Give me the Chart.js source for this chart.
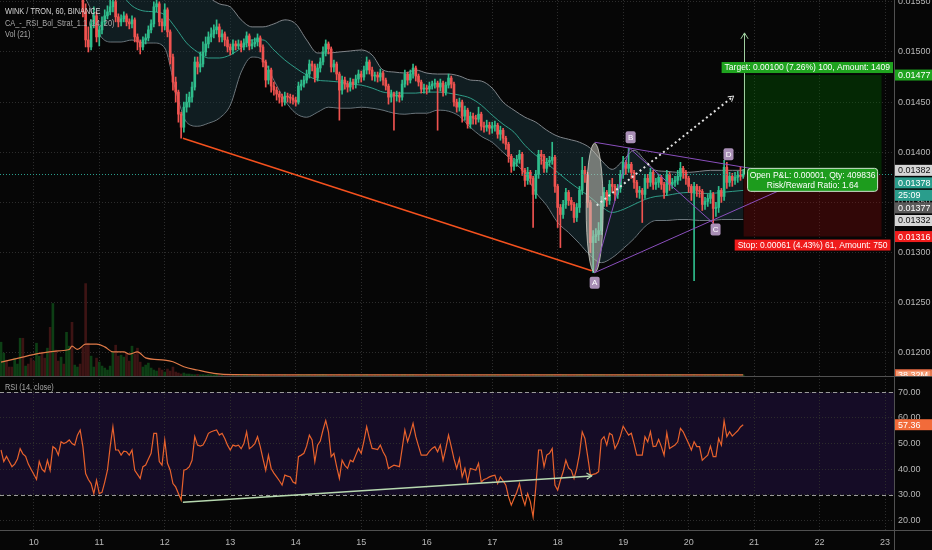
<!DOCTYPE html>
<html>
<head>
<meta charset="utf-8">
<title>WINK / TRON, 60, BINANCE</title>
<script src="https://cdn.jsdelivr.net/npm/chart.js@4.4.1/dist/chart.umd.min.js"></script>
<style>
  html, body { margin: 0; padding: 0; background: #060606; }
  #wrap { position: relative; width: 932px; height: 550px; background: #060606; overflow: hidden; }
  canvas { position: absolute; left: 0; }
  #priceChart { top: 0; }
  #rsiChart { top: 376px; }
</style>
</head>
<body>
<div id="wrap">
  <canvas id="priceChart" width="932" height="376"></canvas>
  <canvas id="rsiChart" width="932" height="174"></canvas>
</div>
<script>
'use strict';

// ---- data: hourly candles, first bar = Oct 9 12:00 (day 9.5) ----
const START_DAY = 9.5;

const opens = [
  0.01588,0.01592,0.01597,0.01590,0.01586,0.01582,0.01587,0.01590,0.01598,0.01591,
  0.01594,0.01589,0.01584,0.01580,0.01588,0.01592,0.01586,0.01582,0.01589,0.01580,
  0.01594,0.01588,0.01585,0.01592,0.01589,0.01597,0.01601,0.01593,0.01597,0.01603,
  0.01592,0.01540,0.01512,0.01505,0.01528,0.01536,0.01515,0.01522,0.01530,0.01536,
  0.01540,0.01545,0.01550,0.01535,0.01530,0.01533,0.01536,0.01530,0.01528,0.01532,
  0.01515,0.01510,0.01505,0.01512,0.01514,0.01522,0.01528,0.01545,0.01548,0.01530,
  0.01526,0.01542,0.01520,0.01495,0.01470,0.01460,0.01438,0.01425,0.01445,0.01450,
  0.01455,0.01465,0.01490,0.01485,0.01488,0.01500,0.01508,0.01515,0.01518,0.01522,
  0.01525,0.01515,0.01518,0.01512,0.01505,0.01502,0.01508,0.01506,0.01508,0.01505,
  0.01509,0.01516,0.01506,0.01508,0.01510,0.01514,0.01505,0.01490,0.01472,0.01482,
  0.01466,0.01462,0.01458,0.01455,0.01450,0.01456,0.01455,0.01454,0.01452,0.01450,
  0.01466,0.01468,0.01472,0.01478,0.01488,0.01486,0.01474,0.01484,0.01490,0.01500,
  0.01508,0.01503,0.01485,0.01488,0.01478,0.01462,0.01472,0.01468,0.01465,0.01470,
  0.01468,0.01473,0.01478,0.01475,0.01482,0.01490,0.01482,0.01476,0.01477,0.01475,
  0.01479,0.01472,0.01466,0.01455,0.01458,0.01456,0.01457,0.01455,0.01468,0.01478,
  0.01472,0.01478,0.01484,0.01476,0.01470,0.01463,0.01464,0.01463,0.01466,0.01468,
  0.01469,0.01465,0.01469,0.01460,0.01467,0.01474,0.01468,0.01450,0.01445,0.01450,
  0.01436,0.01442,0.01428,0.01436,0.01434,0.01433,0.01438,0.01426,0.01425,0.01427,
  0.01424,0.01426,0.01427,0.01418,0.01422,0.01414,0.01408,0.01396,0.01386,0.01390,
  0.01393,0.01398,0.01382,0.01372,0.01380,0.01374,0.01358,0.01378,0.01398,0.01396,
  0.01384,0.01390,0.01392,0.01395,0.01366,0.01345,0.01338,0.01348,0.01360,0.01352,
  0.01348,0.01335,0.01345,0.01362,0.01382,0.01378,0.01350,0.01310,0.01316,0.01318,
  0.01322,0.01350,0.01360,0.01352,0.01368,0.01366,0.01358,0.01364,0.01378,0.01390,
  0.01384,0.01388,0.01380,0.01370,0.01360,0.01362,0.01358,0.01374,0.01370,0.01380,
  0.01368,0.01370,0.01375,0.01368,0.01360,0.01378,0.01368,0.01370,0.01372,0.01376,
  0.01384,0.01380,0.01374,0.01366,0.01360,0.01366,0.01362,0.01361,0.01348,0.01351,
  0.01354,0.01358,0.01344,0.01345,0.01362,0.01356,0.01385,0.01370,0.01376,0.01372,
  0.01375,0.01377,0.01376
];
const highs = [
  0.01596,0.01600,0.01599,0.01592,0.01588,0.01590,0.01593,0.01603,0.01600,0.01597,
  0.01596,0.01591,0.01586,0.01592,0.01595,0.01594,0.01588,0.01592,0.01591,0.01600,
  0.01596,0.01590,0.01595,0.01594,0.01602,0.01605,0.01604,0.01600,0.01606,0.01605,
  0.01594,0.01548,0.01525,0.01532,0.01545,0.01540,0.01526,0.01535,0.01542,0.01546,
  0.01552,0.01558,0.01552,0.01538,0.01537,0.01540,0.01538,0.01533,0.01536,0.01534,
  0.01518,0.01512,0.01515,0.01518,0.01526,0.01532,0.01550,0.01556,0.01550,0.01533,
  0.01548,0.01544,0.01522,0.01498,0.01475,0.01462,0.01440,0.01450,0.01458,0.01460,
  0.01470,0.01495,0.01495,0.01500,0.01510,0.01515,0.01520,0.01524,0.01527,0.01532,
  0.01528,0.01522,0.01520,0.01515,0.01508,0.01512,0.01511,0.01512,0.01511,0.01513,
  0.01520,0.01518,0.01512,0.01514,0.01518,0.01516,0.01507,0.01492,0.01486,0.01484,
  0.01470,0.01465,0.01461,0.01458,0.01460,0.01459,0.01458,0.01457,0.01455,0.01470,
  0.01472,0.01476,0.01482,0.01492,0.01491,0.01488,0.01488,0.01494,0.01505,0.01512,
  0.01510,0.01505,0.01492,0.01490,0.01480,0.01476,0.01475,0.01471,0.01474,0.01473,
  0.01477,0.01482,0.01481,0.01486,0.01495,0.01492,0.01485,0.01480,0.01480,0.01483,
  0.01481,0.01474,0.01468,0.01462,0.01460,0.01461,0.01460,0.01472,0.01482,0.01480,
  0.01482,0.01488,0.01486,0.01478,0.01472,0.01468,0.01467,0.01470,0.01471,0.01473,
  0.01471,0.01473,0.01471,0.01470,0.01478,0.01476,0.01470,0.01453,0.01454,0.01452,
  0.01446,0.01444,0.01440,0.01439,0.01437,0.01445,0.01440,0.01430,0.01432,0.01430,
  0.01430,0.01431,0.01429,0.01426,0.01424,0.01416,0.01410,0.01398,0.01394,0.01397,
  0.01402,0.01400,0.01384,0.01385,0.01382,0.01376,0.01382,0.01402,0.01402,0.01398,
  0.01394,0.01396,0.01410,0.01397,0.01368,0.01348,0.01352,0.01364,0.01362,0.01355,
  0.01350,0.01349,0.01366,0.01395,0.01386,0.01380,0.01352,0.01322,0.01324,0.01330,
  0.01356,0.01365,0.01362,0.01372,0.01374,0.01368,0.01368,0.01382,0.01396,0.01392,
  0.01404,0.01390,0.01382,0.01372,0.01366,0.01364,0.01378,0.01378,0.01384,0.01382,
  0.01374,0.01378,0.01377,0.01370,0.01382,0.01380,0.01374,0.01376,0.01382,0.01390,
  0.01386,0.01382,0.01376,0.01368,0.01370,0.01368,0.01366,0.01363,0.01355,0.01358,
  0.01362,0.01360,0.01350,0.01366,0.01364,0.01392,0.01390,0.01380,0.01379,0.01380,
  0.01381,0.01385,0.01383
];
const lows = [
  0.01585,0.01590,0.01587,0.01583,0.01579,0.01580,0.01585,0.01588,0.01588,0.01589,
  0.01586,0.01581,0.01577,0.01578,0.01586,0.01583,0.01579,0.01580,0.01577,0.01578,
  0.01585,0.01582,0.01583,0.01587,0.01587,0.01594,0.01590,0.01591,0.01595,0.01588,
  0.01535,0.01505,0.01500,0.01502,0.01524,0.01510,0.01506,0.01518,0.01527,0.01533,
  0.01537,0.01540,0.01530,0.01525,0.01526,0.01530,0.01526,0.01523,0.01524,0.01510,
  0.01502,0.01498,0.01502,0.01508,0.01511,0.01519,0.01525,0.01540,0.01526,0.01520,
  0.01522,0.01515,0.01488,0.01462,0.01450,0.01430,0.01414,0.01420,0.01440,0.01445,
  0.01450,0.01462,0.01478,0.01480,0.01485,0.01496,0.01504,0.01510,0.01514,0.01518,
  0.01510,0.01510,0.01506,0.01500,0.01497,0.01498,0.01502,0.01503,0.01500,0.01502,
  0.01505,0.01502,0.01503,0.01505,0.01506,0.01500,0.01485,0.01465,0.01468,0.01460,
  0.01457,0.01452,0.01449,0.01446,0.01447,0.01450,0.01449,0.01448,0.01446,0.01448,
  0.01462,0.01465,0.01469,0.01474,0.01481,0.01470,0.01471,0.01480,0.01487,0.01496,
  0.01498,0.01480,0.01480,0.01472,0.01432,0.01458,0.01463,0.01460,0.01461,0.01463,
  0.01464,0.01469,0.01470,0.01472,0.01478,0.01478,0.01472,0.01471,0.01470,0.01471,
  0.01467,0.01462,0.01448,0.01450,0.01422,0.01451,0.01450,0.01452,0.01465,0.01467,
  0.01469,0.01474,0.01471,0.01466,0.01459,0.01459,0.01458,0.01460,0.01463,0.01464,
  0.01422,0.01461,0.01456,0.01457,0.01464,0.01464,0.01446,0.01440,0.01441,0.01430,
  0.01432,0.01424,0.01424,0.01428,0.01428,0.01430,0.01422,0.01420,0.01421,0.01418,
  0.01419,0.01421,0.01414,0.01412,0.01409,0.01403,0.01390,0.01380,0.01382,0.01386,
  0.01389,0.01377,0.01366,0.01368,0.01368,0.01325,0.01354,0.01374,0.01388,0.01380,
  0.01380,0.01386,0.01388,0.01360,0.01325,0.01305,0.01334,0.01344,0.01347,0.01342,
  0.01330,0.01331,0.01340,0.01358,0.01370,0.01345,0.01300,0.01280,0.01310,0.01312,
  0.01318,0.01346,0.01346,0.01348,0.01360,0.01352,0.01354,0.01360,0.01374,0.01378,
  0.01380,0.01374,0.01364,0.01355,0.01354,0.01330,0.01354,0.01364,0.01366,0.01363,
  0.01363,0.01365,0.01363,0.01354,0.01357,0.01362,0.01364,0.01366,0.01368,0.01372,
  0.01374,0.01368,0.01360,0.01352,0.01272,0.01356,0.01355,0.01342,0.01343,0.01346,
  0.01349,0.01326,0.01336,0.01340,0.01350,0.01352,0.01364,0.01366,0.01366,0.01368,
  0.01370,0.01372,0.01374
];
const closes = [
  0.01592,0.01597,0.01590,0.01586,0.01582,0.01587,0.01590,0.01598,0.01591,0.01594,
  0.01589,0.01584,0.01580,0.01588,0.01592,0.01586,0.01582,0.01589,0.01580,0.01594,
  0.01588,0.01585,0.01592,0.01589,0.01597,0.01601,0.01593,0.01597,0.01603,0.01592,
  0.01540,0.01512,0.01505,0.01528,0.01536,0.01515,0.01522,0.01530,0.01536,0.01540,
  0.01545,0.01550,0.01535,0.01530,0.01533,0.01536,0.01530,0.01528,0.01532,0.01515,
  0.01510,0.01505,0.01512,0.01514,0.01522,0.01528,0.01545,0.01548,0.01530,0.01526,
  0.01542,0.01520,0.01495,0.01470,0.01460,0.01438,0.01425,0.01445,0.01450,0.01455,
  0.01465,0.01490,0.01485,0.01488,0.01500,0.01508,0.01515,0.01518,0.01522,0.01525,
  0.01515,0.01518,0.01512,0.01505,0.01502,0.01508,0.01506,0.01508,0.01505,0.01509,
  0.01516,0.01506,0.01508,0.01510,0.01514,0.01505,0.01490,0.01472,0.01482,0.01466,
  0.01462,0.01458,0.01455,0.01450,0.01456,0.01455,0.01454,0.01452,0.01450,0.01466,
  0.01468,0.01472,0.01478,0.01488,0.01486,0.01474,0.01484,0.01490,0.01500,0.01508,
  0.01503,0.01485,0.01488,0.01478,0.01462,0.01472,0.01468,0.01465,0.01470,0.01468,
  0.01473,0.01478,0.01475,0.01482,0.01490,0.01482,0.01476,0.01477,0.01475,0.01479,
  0.01472,0.01466,0.01455,0.01458,0.01456,0.01457,0.01455,0.01468,0.01478,0.01472,
  0.01478,0.01484,0.01476,0.01470,0.01463,0.01464,0.01463,0.01466,0.01468,0.01469,
  0.01465,0.01469,0.01460,0.01467,0.01474,0.01468,0.01450,0.01445,0.01450,0.01436,
  0.01442,0.01428,0.01436,0.01434,0.01433,0.01438,0.01426,0.01425,0.01427,0.01424,
  0.01426,0.01427,0.01418,0.01422,0.01414,0.01408,0.01396,0.01386,0.01390,0.01393,
  0.01398,0.01382,0.01372,0.01380,0.01374,0.01358,0.01378,0.01398,0.01396,0.01384,
  0.01390,0.01392,0.01395,0.01366,0.01345,0.01338,0.01348,0.01360,0.01352,0.01348,
  0.01335,0.01345,0.01362,0.01382,0.01378,0.01350,0.01310,0.01316,0.01318,0.01322,
  0.01350,0.01360,0.01352,0.01368,0.01366,0.01358,0.01364,0.01378,0.01390,0.01384,
  0.01388,0.01380,0.01370,0.01360,0.01362,0.01358,0.01374,0.01370,0.01380,0.01368,
  0.01370,0.01375,0.01368,0.01360,0.01378,0.01368,0.01370,0.01372,0.01376,0.01384,
  0.01380,0.01374,0.01366,0.01360,0.01366,0.01362,0.01361,0.01348,0.01351,0.01354,
  0.01358,0.01344,0.01345,0.01362,0.01356,0.01385,0.01370,0.01376,0.01372,0.01375,
  0.01377,0.01376,0.01378
];

// volume in millions, hourly
const volumes = [
  1258,851,592,333,333,666,444,1406,1406,370,
  444,666,555,1221,740,888,666,1036,1813,2701,
  962,555,703,444,1628,1110,1998,407,333,444,
  1073,3441,1221,740,333,666,518,370,296,222,
  370,888,1147,740,777,703,851,555,1110,814,
  1036,518,333,407,481,296,222,185,296,222,
  148,259,185,333,148,111,74,111,74,74,
  55,48,62,44,51,39,58,47,42,60,53,45,38,49,57,41,46,52,36,44,
  61,40,47,55,43,38,66,52,45,41,49,37,58,44,50,42,35,47,53,62,
  45,39,48,56,41,60,43,50,64,47,38,59,44,52,67,40,46,42,49,37,
  45,51,40,48,63,46,39,43,50,41,47,36,55,44,61,42,38,52,57,45,
  48,54,43,39,47,40,36,44,41,46,58,42,50,45,53,40,56,48,43,51,
  39,47,44,38,42,49,46,41,37,45,40,43,50,39,47,55,62,58,44,41,
  52,49,57,45,48,68,59,54,43,40,38,42,47,56,61,66,48,45,41,39,
  46,43,50,58,44,55,63,57,47,42,52,48,40,45,43,38,41,47,52,39,
  49,44,42,46,40,53,47,43,45,39,41,37,40,46,50,42,38,40,44,47,
  43,39,42,45,55,41,38,44,40,37,42,48,39,43,46,52,41,38,40,36,42,39,38.32
];

// Vol (21) moving average, read at these bar indices
const volMaHours = [0, 6, 14, 21, 25, 26, 28, 31, 35, 38, 41, 45, 47, 50, 53, 60, 63, 67, 72, 78, 85, 100, 130, 160, 190, 220, 250, 272];
const volMa      = [518, 655, 840, 936, 988, 1110, 988, 1184, 1184, 1084, 899, 899, 814, 899, 677, 592, 529, 344, 222, 100, 48, 44, 42, 41, 43, 42, 41, 40];

// Bollinger bands (20), read every 4 bars
const bandHours = [
  0,4,8,12,16,20,24,28,32,36,40,44,48,52,56,60,64,68,72,76,80,84,88,92,96,100,104,108,112,116,
  120,124,128,132,136,140,144,148,152,156,160,164,168,172,176,180,184,188,192,196,200,204,208,212,
  216,220,224,228,232,236,240,244,248,252,256,260,264,268,272
];
const bbUpper = [
  0.01625,0.01628,0.01630,0.01630,0.01628,0.01626,0.01625,0.01625,0.01622,0.01615,0.01605,0.01600,
  0.01598,0.01595,0.01590,0.01588,0.01590,0.01592,0.01575,0.01556,0.01548,0.01545,0.01532,0.01525,
  0.01525,0.01528,0.01532,0.01528,0.01512,0.01499,0.01499,0.01500,0.01501,0.01502,0.01497,0.01482,
  0.01480,0.01479,0.01482,0.01479,0.01478,0.01478,0.01476,0.01472,0.01471,0.01464,0.01450,0.01442,
  0.01435,0.01430,0.01422,0.01416,0.01413,0.01410,0.01404,0.01392,0.01383,0.01392,0.01402,0.01392,
  0.01382,0.01381,0.01380,0.01380,0.01381,0.01382,0.01382,0.01382,0.01382
];
const bbMid = [
  0.01592,0.01592,0.01591,0.01590,0.01589,0.01588,0.01589,0.01590,0.01588,0.01580,0.01570,0.01558,
  0.01546,0.01541,0.01540,0.01537,0.01524,0.01509,0.01500,0.01494,0.01494,0.01497,0.01504,0.01512,
  0.01512,0.01502,0.01492,0.01484,0.01477,0.01472,0.01471,0.01470,0.01468,0.01467,0.01464,0.01460,
  0.01459,0.01459,0.01459,0.01460,0.01460,0.01459,0.01457,0.01454,0.01447,0.01437,0.01428,0.01420,
  0.01407,0.01397,0.01389,0.01380,0.01371,0.01363,0.01355,0.01346,0.01340,0.01343,0.01348,0.01353,
  0.01356,0.01357,0.01359,0.01360,0.01359,0.01359,0.01360,0.01361,0.01362
];
const bbLower = [
  0.01562,0.01560,0.01560,0.01558,0.01558,0.01557,0.01558,0.01560,0.01548,0.01518,0.01510,0.01510,
  0.01512,0.01509,0.01509,0.01504,0.01462,0.01430,0.01426,0.01429,0.01434,0.01447,0.01480,0.01495,
  0.01492,0.01472,0.01452,0.01439,0.01435,0.01440,0.01445,0.01444,0.01444,0.01445,0.01444,0.01442,
  0.01439,0.01438,0.01439,0.01439,0.01442,0.01441,0.01436,0.01425,0.01416,0.01410,0.01400,0.01390,
  0.01379,0.01360,0.01347,0.01330,0.01320,0.01309,0.01297,0.01290,0.01295,0.01304,0.01314,0.01326,
  0.01332,0.01332,0.01333,0.01333,0.01332,0.01332,0.01333,0.01333,0.01333
];

// RSI (14, close), hourly
const rsi = [
  47.5,43,45,43,41,42,44,48,46,45,
  42,40,38,36,43,40,39,43.5,39.6,48.8,
  48,45.5,50.7,50,50.5,51.4,50,49.4,53.3,55.3,
  48.8,38.3,36,34.4,30.5,35.7,30.5,31,35,39.6,
  48.8,56.6,47.5,47.5,45.5,47,46.8,45.5,47.5,39.6,
  38,36.4,41,41.6,44,46.2,54,54,43,41.6,
  51.4,42.3,39.6,34.4,33.1,30.5,28,39.6,40,41,
  43.5,52.7,49.4,49,49.4,51.4,54,54.6,55,55.3,
  53.3,54,52,49.4,47.5,49.4,49,49.4,48,50,
  54.6,48,48.8,50,52.7,48.8,44,39.6,45.5,40.3,
  38.5,37,35.5,33.8,37.7,37.3,37,35,34.4,44.9,
  45.5,46.2,49,53.3,51.4,43,49.4,51,55.3,59,
  54.6,44.9,46.2,41,36.4,43.5,41.5,40.3,43.5,42.9,
  45.5,48.1,46.2,51,56.6,52,48.1,47.9,47.7,49.4,
  46.8,44.9,40.3,41,41.6,41.3,41,48,55.3,50.7,
  54,57.9,52.7,49,45.5,45.5,45.5,47,48.1,48.8,
  46.8,49.4,43.5,48,53.3,48.8,44,40.3,44.2,37,
  40.3,35,40.3,40,39.6,42.3,35,36,36.4,37,
  37.4,37.7,34.4,37,35.5,33.8,29.2,26,28.6,31,
  34.4,29.2,26,30.5,27.3,21.4,33.1,47.5,47.5,41,
  45.5,46.2,48.1,33.8,31.8,35.7,39,43.5,40.5,39.6,
  36.4,40.3,46,54.6,52,45,37.7,38,38.3,39,
  51.4,52.7,49.4,54,53.3,48.1,50,53,56.8,55,
  53.3,54,50,45.5,45.5,45.5,52.7,50.7,54.6,48.8,
  49,51.6,48.8,45.5,54.2,48.1,48.8,49.4,50.7,55.9,
  54.6,52.3,50,47.5,50.7,48.8,48.8,43.5,44.5,45.5,
  49,44.9,44.9,52,49.4,58.9,52.7,54.6,52.9,54,
  55,56.5,57.36
];

// axis ticks
const dayTicks = [10, 11, 12, 13, 14, 15, 16, 17, 18, 19, 20, 21, 22, 23];
const priceTicks = [0.0120, 0.0125, 0.0130, 0.0135, 0.0140, 0.0145, 0.0150, 0.0155];
const rsiTicks = [20, 30, 40, 50, 60, 70];

// drawings (anchors in day / price units)
const trendLine = [[12.277, 0.01414], [18.52, 0.01282]];
const patternLines = [
  [[18.565, 0.01410], [21.313, 0.01380]],
  [[18.565, 0.01280], [21.39, 0.01362]],
  [[18.565, 0.01280], [19.099, 0.01404]],
  [[19.099, 0.01404], [20.381, 0.01329]]
];
const patternLabels = [['A', 18.565, 0.01270], ['B', 19.114, 0.01415], ['C', 20.411, 0.01323], ['D', 20.609, 0.01398]];
const markEllipse = { day: 18.565, price: 0.013445, rDay: 0.13, rPrice: 0.000645 };
const projection = [[18.596, 0.01347], [20.687, 0.01456]];
const rr = { start: 20.84, end: 22.946, entry: 0.01378, target: 0.01477, stop: 0.01316, top: 0.01519 };
const rsiDivergence = [[12.277, 27.1], [18.52, 37.4]];

const priceTags = [
  { text: '0.01477', value: 0.01477, bg: '#1fa31f', fg: '#ffffff' },
  { text: '0.01382', value: 0.01382, bg: '#d6d6d6', fg: '#111111' },
  { text: '0.01378', value: 0.01378, bg: '#2a9d8c', fg: '#ffffff' },
  { text: '25:09',   value: 0.01378, bg: '#2a9d8c', fg: '#ffffff' },
  { text: '0.01377', value: 0.01377, bg: '#5a5a5a', fg: '#ffffff' },
  { text: '0.01332', value: 0.01332, bg: '#d6d6d6', fg: '#111111' },
  { text: '0.01316', value: 0.01316, bg: '#f01c1c', fg: '#ffffff' }
];

// ---- layout / style ----
const X_MIN = 9.4841, X_MAX = 23.136;
const P_MIN = 0.011770, P_MAX = 0.015518;
const R_MIN = 16.29, R_MAX = 76.36;
const VOL_MAX = 14000;
const AXIS_W = 38;
const FONT = '"Liberation Sans", Arial, sans-serif';
const GRID = '#2c2c2c';
const TXT = '#b8b8b8';
const AXIS_LINE = '#505050';
const UP = '#2fbd8c', DOWN = '#ef5350';

Chart.defaults.font.family = FONT;
Chart.defaults.font.size = 9;
Chart.defaults.color = TXT;

const times = closes.map((_, i) => START_DAY + i / 24);
const candleColors = closes.map((c, i) => (c >= opens[i] ? UP : DOWN));
const volColors = closes.map((c, i) => (c >= opens[i] ? '#0d3f15' : '#3d1414'));
const toPts = (hours, vals) => hours.map((h, k) => ({ x: START_DAY + h / 24, y: vals[k] }));

function strokeLine(ctx, a, b, color, width, dash) {
  ctx.save();
  ctx.strokeStyle = color;
  ctx.lineWidth = width;
  ctx.setLineDash(dash || []);
  ctx.beginPath();
  ctx.moveTo(a[0], a[1]);
  ctx.lineTo(b[0], b[1]);
  ctx.stroke();
  ctx.restore();
}

function chevron(ctx, from, to, size, color, width) {
  const ang = Math.atan2(to[1] - from[1], to[0] - from[0]);
  ctx.save();
  ctx.strokeStyle = color;
  ctx.lineWidth = width;
  ctx.setLineDash([]);
  ctx.beginPath();
  ctx.moveTo(to[0] - size * Math.cos(ang - 0.55), to[1] - size * Math.sin(ang - 0.55));
  ctx.lineTo(to[0], to[1]);
  ctx.lineTo(to[0] - size * Math.cos(ang + 0.55), to[1] - size * Math.sin(ang + 0.55));
  ctx.stroke();
  ctx.restore();
}

function drawText(ctx, str, x, y, font, color, sx, align) {
  ctx.save();
  ctx.font = font;
  ctx.fillStyle = color;
  ctx.textBaseline = 'middle';
  ctx.textAlign = align || 'left';
  ctx.translate(x, y);
  ctx.scale(sx || 1, 1);
  ctx.fillText(str, 0, 0);
  ctx.restore();
}

// ---- price pane drawings ----
const pricePlugin = {
  id: 'priceDrawings',
  beforeDatasetsDraw(chart) {
    const { ctx, scales: { x, y } } = chart;
    const xs = x.getPixelForValue(rr.start), xe = x.getPixelForValue(rr.end);
    const yT = y.getPixelForValue(rr.target), yE = y.getPixelForValue(rr.entry), yS = y.getPixelForValue(rr.stop);
    ctx.save();
    ctx.fillStyle = 'rgba(0,120,0,0.30)';
    ctx.fillRect(xs, yT, xe - xs, yE - yT);
    ctx.fillStyle = 'rgba(150,10,10,0.30)';
    ctx.fillRect(xs, yE, xe - xs, yS - yE);
    ctx.restore();
  },
  afterDatasetsDraw(chart) {
    const { ctx, chartArea: a, scales: { x, y } } = chart;
    const P = (d, p) => [x.getPixelForValue(d), y.getPixelForValue(p)];
    ctx.save();
    ctx.beginPath();
    ctx.rect(a.left, a.top, a.right - a.left, a.bottom - a.top);
    ctx.clip();

    // last price line
    const yl = Math.round(y.getPixelForValue(closes[closes.length - 1])) + 0.5;
    strokeLine(ctx, [a.left, yl], [a.right, yl], '#2a9d8c', 1, [1, 2]);

    // price trend line
    strokeLine(ctx, P(...trendLine[0]), P(...trendLine[1]), '#f4511e', 1.6);

    // ellipse marker
    const [ex, ey] = P(markEllipse.day, markEllipse.price);
    const rx = Math.abs(x.getPixelForValue(markEllipse.day + markEllipse.rDay) - ex);
    const ry = Math.abs(y.getPixelForValue(markEllipse.price + markEllipse.rPrice) - ey);
    ctx.beginPath();
    ctx.ellipse(ex, ey, rx, ry, 0, 0, Math.PI * 2);
    ctx.fillStyle = 'rgba(200,198,188,0.55)';
    ctx.fill();
    ctx.strokeStyle = 'rgba(225,225,215,0.7)';
    ctx.lineWidth = 1;
    ctx.stroke();

    // triangle pattern
    patternLines.forEach(([p0, p1]) => strokeLine(ctx, P(...p0), P(...p1), '#8a4fbd', 1));

    // dotted projection arrow
    const pr0 = P(...projection[0]), pr1 = P(...projection[1]);
    strokeLine(ctx, pr0, pr1, '#e2e2e2', 2, [2, 3]);
    chevron(ctx, pr0, pr1, 6, '#e2e2e2', 1);

    // risk / reward
    const xs = x.getPixelForValue(rr.start), xe = x.getPixelForValue(rr.end);
    const yT = y.getPixelForValue(rr.target), yE = y.getPixelForValue(rr.entry), yS = y.getPixelForValue(rr.stop);
    const yTop = y.getPixelForValue(rr.top);
    const xa = Math.round(xs) + 0.5;
    strokeLine(ctx, [xa, yE], [xa, yTop], '#9fcf9f', 1);
    chevron(ctx, [xa, yE], [xa, yTop], 7, '#9fcf9f', 1);

    const cx = (xs + xe) / 2;
    ctx.font = '8.5px ' + FONT;
    ctx.textBaseline = 'middle';
    const rrLabel = (text, top, bg) => {
      const w = ctx.measureText(text).width + 6;
      let left = cx - w / 2;
      if (left + w > a.right - 1) left = a.right - 1 - w;
      ctx.fillStyle = bg;
      ctx.fillRect(left, top, w, 11);
      ctx.fillStyle = '#ffffff';
      ctx.textAlign = 'left';
      ctx.fillText(text, left + 3, top + 6);
    };
    rrLabel('Target: 0.00100 (7.26%) 100, Amount: 1409', yT - 13, '#1fa31f');
    rrLabel('Stop: 0.00061 (4.43%) 61, Amount: 750', yS + 3, '#ef1b1b');

    const bw = 130, bh = 23, bl = cx - bw / 2, bt = yE - 6;
    ctx.beginPath();
    ctx.roundRect(bl, bt, bw, bh, 3);
    ctx.fillStyle = '#1d9c1d';
    ctx.fill();
    ctx.strokeStyle = '#cfe6cf';
    ctx.lineWidth = 1;
    ctx.stroke();
    ctx.fillStyle = '#ffffff';
    ctx.textAlign = 'center';
    ctx.fillText('Open P&L: 0.00001, Qty: 409836', bl + bw / 2, bt + 7);
    ctx.fillText('Risk/Reward Ratio: 1.64', bl + bw / 2, bt + 17);

    // pattern letters
    patternLabels.forEach(([ch, d, p]) => {
      const [lx, ly] = P(d, p);
      ctx.beginPath();
      ctx.roundRect(lx - 5, ly - 6, 10, 12, 2);
      ctx.fillStyle = '#a98fb6';
      ctx.fill();
      drawText(ctx, ch, lx, ly + 0.5, '8px ' + FONT, '#ffffff', 1, 'center');
    });
    ctx.restore();
  },
  afterDraw(chart) {
    const { ctx, chartArea: a, scales: { y, vol } } = chart;
    ctx.save();
    const xr = Math.round(a.right) + 0.5;
    strokeLine(ctx, [xr, 0], [xr, chart.height], AXIS_LINE, 1);

    // price tags, stacked downward when they collide
    ctx.font = '9px ' + FONT;
    ctx.textBaseline = 'middle';
    ctx.textAlign = 'left';
    let prev = -Infinity;
    priceTags.forEach(t => {
      let ty = y.getPixelForValue(t.value);
      if (ty < prev + 12.5) ty = prev + 12.5;
      prev = ty;
      ctx.fillStyle = t.bg;
      ctx.fillRect(a.right + 1, ty - 5.5, chart.width - a.right - 1, 11);
      ctx.fillStyle = t.fg;
      ctx.fillText(t.text, a.right + 4, ty + 0.5);
    });

    // last volume tag
    const vy = vol.getPixelForValue(volumes[volumes.length - 1]);
    ctx.fillStyle = '#f39a73';
    ctx.fillRect(a.right + 1, vy - 5.5, chart.width - a.right - 1, 11);
    ctx.strokeStyle = '#d9542b';
    ctx.strokeRect(a.right + 1.5, vy - 5, chart.width - a.right - 2.5, 10);
    ctx.fillStyle = '#ffffff';
    ctx.fillText(volumes[volumes.length - 1].toFixed(2) + 'M', a.right + 4, vy + 0.5);

    // legend texts
    drawText(ctx, 'WINK / TRON, 60, BINANCE', 5, 12, '9px ' + FONT, '#d4d4d4', 0.82);
    drawText(ctx, 'CA_-_RSI_Bol_Strat_1.1 (14, 20)', 5, 24, '9px ' + FONT, '#a9a9a9', 0.82);
    drawText(ctx, 'Vol (21)', 5, 35, '9px ' + FONT, '#a9a9a9', 0.82);
    ctx.restore();
  }
};

new Chart(document.getElementById('priceChart'), {
  type: 'bar',
  data: {
    datasets: [
      {
        type: 'bar', label: 'Body', yAxisID: 'y', order: 0,
        data: times.map((t, i) => ({ x: t, y: [opens[i], closes[i]] })),
        backgroundColor: candleColors, barThickness: 2, grouped: false, minBarLength: 1,
      },
      {
        type: 'bar', label: 'Wick', yAxisID: 'y', order: 1,
        data: times.map((t, i) => ({ x: t, y: [lows[i], highs[i]] })),
        backgroundColor: candleColors, barThickness: 1, grouped: false,
      },
      {
        type: 'line', label: 'BB basis', yAxisID: 'y', order: 2,
        data: toPts(bandHours, bbMid),
        borderColor: '#2f9d88', borderWidth: 1, pointRadius: 0, cubicInterpolationMode: 'monotone',
      },
      {
        type: 'line', label: 'BB upper', yAxisID: 'y', order: 3,
        data: toPts(bandHours, bbUpper),
        borderColor: '#80858a', borderWidth: 1, pointRadius: 0, cubicInterpolationMode: 'monotone',
        fill: '+1', backgroundColor: 'rgba(30,62,72,0.42)',
      },
      {
        type: 'line', label: 'BB lower', yAxisID: 'y', order: 4,
        data: toPts(bandHours, bbLower),
        borderColor: '#80858a', borderWidth: 1, pointRadius: 0, cubicInterpolationMode: 'monotone',
      },
      {
        type: 'line', label: 'Vol MA', yAxisID: 'vol', order: 5,
        data: toPts(volMaHours, volMa),
        borderColor: '#e07a48', borderWidth: 1.2, pointRadius: 0, cubicInterpolationMode: 'monotone',
      },
      {
        type: 'bar', label: 'Volume', yAxisID: 'vol', order: 6,
        data: times.map((t, i) => ({ x: t, y: volumes[i] })),
        backgroundColor: volColors, barThickness: 2, grouped: false,
      },
    ],
  },
  options: {
    responsive: false,
    animation: false,
    events: [],
    layout: { padding: 0, autoPadding: false },
    plugins: { legend: { display: false }, tooltip: { enabled: false } },
    scales: {
      x: {
        type: 'linear', min: X_MIN, max: X_MAX, offset: false,
        grid: { color: GRID, offset: false, drawTicks: false },
        border: { display: false, dash: [1, 2] },
        ticks: { display: false },
        afterBuildTicks: s => { s.ticks = dayTicks.map(v => ({ value: v })); },
        afterFit: s => { s.height = 0; },
      },
      y: {
        position: 'right', min: P_MIN, max: P_MAX,
        grid: { color: GRID, drawTicks: false },
        border: { display: false, dash: [1, 2] },
        ticks: { color: TXT, padding: 4, callback: v => Number(v).toFixed(5) },
        afterBuildTicks: s => { s.ticks = priceTicks.map(v => ({ value: v })); },
        afterFit: s => { s.width = AXIS_W; s.paddingTop = 0; s.paddingBottom = 0; },
      },
      vol: { display: false, position: 'left', min: 0, max: VOL_MAX },
    },
  },
  plugins: [pricePlugin],
});

// ---- RSI pane ----
const rsiPlugin = {
  id: 'rsiDrawings',
  beforeDraw(chart) {
    const { ctx, chartArea: a, scales: { y } } = chart;
    const y70 = y.getPixelForValue(70), y30 = y.getPixelForValue(30);
    ctx.save();
    ctx.fillStyle = '#150c26';
    ctx.fillRect(a.left, y70, a.right - a.left, y30 - y70);
    ctx.restore();
  },
  beforeDatasetsDraw(chart) {
    const { ctx, chartArea: a, scales: { y } } = chart;
    [70, 30].forEach(v => {
      const yy = Math.round(y.getPixelForValue(v)) + 0.5;
      strokeLine(ctx, [a.left, yy], [a.right, yy], '#9a9a9a', 1, [4, 3]);
    });
  },
  afterDatasetsDraw(chart) {
    const { ctx, scales: { x, y } } = chart;
    const p0 = [x.getPixelForValue(rsiDivergence[0][0]), y.getPixelForValue(rsiDivergence[0][1])];
    const p1 = [x.getPixelForValue(rsiDivergence[1][0]), y.getPixelForValue(rsiDivergence[1][1])];
    strokeLine(ctx, p0, p1, '#b7d8b0', 1.5);
    chevron(ctx, p0, p1, 6, '#b7d8b0', 1.2);
  },
  afterDraw(chart) {
    const { ctx, chartArea: a, scales: { y } } = chart;
    ctx.save();
    strokeLine(ctx, [0, 0.5], [chart.width, 0.5], AXIS_LINE, 1);
    const yb = Math.round(a.bottom) + 0.5;
    strokeLine(ctx, [0, yb], [chart.width, yb], AXIS_LINE, 1);
    const xr = Math.round(a.right) + 0.5;
    strokeLine(ctx, [xr, 0], [xr, chart.height], AXIS_LINE, 1);

    const last = rsi[rsi.length - 1];
    const ty = y.getPixelForValue(last);
    ctx.fillStyle = '#f26b3a';
    ctx.fillRect(a.right + 1, ty - 5.5, chart.width - a.right - 1, 11);
    ctx.font = '9px ' + FONT;
    ctx.textBaseline = 'middle';
    ctx.fillStyle = '#ffffff';
    ctx.fillText(last.toFixed(2), a.right + 4, ty + 0.5);

    drawText(ctx, 'RSI (14, close)', 5, 12, '9px ' + FONT, '#a9a9a9', 0.82);
    ctx.restore();
  }
};

new Chart(document.getElementById('rsiChart'), {
  type: 'line',
  data: {
    datasets: [{
      label: 'RSI',
      data: times.map((t, i) => ({ x: t, y: rsi[i] })),
      borderColor: '#e8622c', borderWidth: 1.2, pointRadius: 0, tension: 0,
    }],
  },
  options: {
    responsive: false,
    animation: false,
    events: [],
    layout: { padding: 0, autoPadding: false },
    plugins: { legend: { display: false }, tooltip: { enabled: false } },
    scales: {
      x: {
        type: 'linear', min: X_MIN, max: X_MAX, offset: false,
        grid: { color: GRID, drawTicks: false },
        border: { display: false, dash: [1, 2] },
        ticks: { color: TXT, padding: 7, autoSkip: false, maxRotation: 0, callback: v => String(v) },
        afterBuildTicks: s => { s.ticks = dayTicks.map(v => ({ value: v })); },
        afterFit: s => { s.height = 20; s.paddingLeft = 0; s.paddingRight = 0; },
      },
      y: {
        position: 'right', min: R_MIN, max: R_MAX,
        grid: { color: GRID, drawTicks: false },
        border: { display: false, dash: [1, 2] },
        ticks: { color: TXT, padding: 4, callback: v => Number(v).toFixed(2) },
        afterBuildTicks: s => { s.ticks = rsiTicks.map(v => ({ value: v })); },
        afterFit: s => { s.width = AXIS_W; s.paddingTop = 0; s.paddingBottom = 0; },
      },
    },
  },
  plugins: [rsiPlugin],
});
</script>
</body>
</html>
